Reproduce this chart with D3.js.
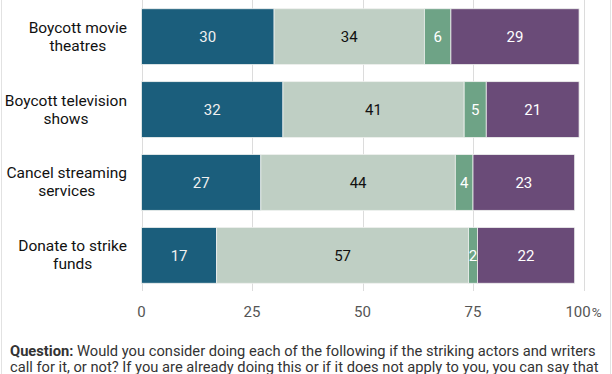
<!DOCTYPE html>
<html>
<head>
<meta charset="utf-8">
<script src="https://cdn.jsdelivr.net/npm/d3@7"></script>
<style>
  body { margin: 0; background: #fff; font-family: Roboto, sans-serif; }
  svg { display: block; }
</style>
</head>
<body>
<div id="chart"></div>
<script>
// data
var categories = [
  ["Boycott movie", "theatres"],
  ["Boycott television", "shows"],
  ["Cancel streaming", "services"],
  ["Donate to strike", "funds"]
];
var seriesA = [30, 32, 27, 17];
var seriesB = [34, 41, 44, 57];
var seriesC = [6, 5, 4, 2];
var seriesD = [29, 21, 23, 22];
var tickValues = [0, 25, 50, 75, 100];

var svgWidth = 612;
var svgHeight = 374;

var colors = ["#1b5e7c", "#bfcfc4", "#6ea386", "#6a4b78"];
var labelColors = ["#f0f0f0", "#111", "#fff", "#fff"];

var svg = d3.select("#chart")
  .append("svg")
  .attr("width", svgWidth)
  .attr("height", svgHeight);

// card border lines
svg.append("line").attr("x1", 1.5).attr("x2", 1.5).attr("y1", 0).attr("y2", svgHeight)
  .attr("stroke", "#e2e2e2");
svg.append("line").attr("x1", 610.5).attr("x2", 610.5).attr("y1", 0).attr("y2", svgHeight)
  .attr("stroke", "#e2e2e2");

var xScale = d3.scaleLinear()
  .domain([0, 100])
  .range([141.5, 583.5]);

var yScale = d3.scaleBand()
  .domain(d3.range(categories.length))
  .range([0, 292])
  .paddingInner(0.235)
  .paddingOuter(0.12);

// gridlines
svg.append("g")
  .selectAll("line")
  .data(tickValues)
  .enter()
  .append("line")
  .attr("x1", d => Math.round(xScale(d)) + 0.5)
  .attr("x2", d => Math.round(xScale(d)) + 0.5)
  .attr("y1", 0)
  .attr("y2", 291)
  .attr("stroke", "#dcdcdc")
  .attr("stroke-width", 1);

// stack the series
var rows = categories.map(function (c, i) {
  return { i: i, a: seriesA[i], b: seriesB[i], c: seriesC[i], d: seriesD[i] };
});
var stack = d3.stack().keys(["a", "b", "c", "d"]);
var stacked = stack(rows);

var layers = svg.selectAll("g.layer")
  .data(stacked)
  .enter()
  .append("g")
  .attr("class", "layer")
  .attr("fill", (d, k) => colors[k]);

layers.selectAll("rect")
  .data(d => d)
  .enter()
  .append("rect")
  .attr("x", d => xScale(d[0]))
  .attr("y", d => yScale(d.data.i))
  .attr("width", d => xScale(d[1]) - xScale(d[0]))
  .attr("height", yScale.bandwidth())
  .attr("stroke", "#eef0ee")
  .attr("stroke-width", 0.8);

// value labels
stacked.forEach(function (layer, k) {
  svg.append("g")
    .selectAll("text")
    .data(layer)
    .enter()
    .append("text")
    .attr("x", d => (xScale(d[0]) + xScale(d[1])) / 2)
    .attr("y", d => yScale(d.data.i) + yScale.bandwidth() / 2)
    .attr("dy", "0.36em")
    .attr("text-anchor", "middle")
    .attr("font-size", 15)
    .attr("fill", labelColors[k])
    .text(d => d[1] - d[0]);
});

// category labels: centered block, right edge at x=127
var labelRight = 127;
categories.forEach(function (lines, i) {
  var cy = yScale(i) + yScale.bandwidth() / 2;
  var t = svg.append("text")
    .attr("font-size", 15.5)
    .attr("fill", "#111")
    .attr("text-anchor", "middle");
  var spans = lines.map(function (line, j) {
    return t.append("tspan")
      .attr("y", cy + (j === 0 ? -4 : 14))
      .text(line);
  });
  var maxW = d3.max(spans, s => s.node().getComputedTextLength());
  spans.forEach(s => s.attr("x", labelRight - maxW / 2));
});

// x axis tick labels
var ticks = svg.append("g")
  .selectAll("text")
  .data(tickValues)
  .enter()
  .append("text")
  .attr("x", d => xScale(d))
  .attr("y", 317)
  .attr("text-anchor", "middle")
  .attr("font-size", 15)
  .attr("fill", "#555");
ticks.append("tspan").text(d => d);
ticks.filter(d => d === 100)
  .append("tspan")
  .attr("font-size", 13.5)
  .attr("dx", 1)
  .text("%");

// question note
var note = svg.append("text")
  .attr("x", 10)
  .attr("font-size", 14.7)
  .attr("fill", "#333");
note.append("tspan").attr("x", 10).attr("y", 356)
  .attr("font-weight", "bold").text("Question:");
note.append("tspan")
  .text(" Would you consider doing each of the following if the striking actors and writers");
note.append("tspan").attr("x", 10).attr("y", 372)
  .text("call for it, or not? If you are already doing this or if it does not apply to you, you can say that");
</script>
</body>
</html>
